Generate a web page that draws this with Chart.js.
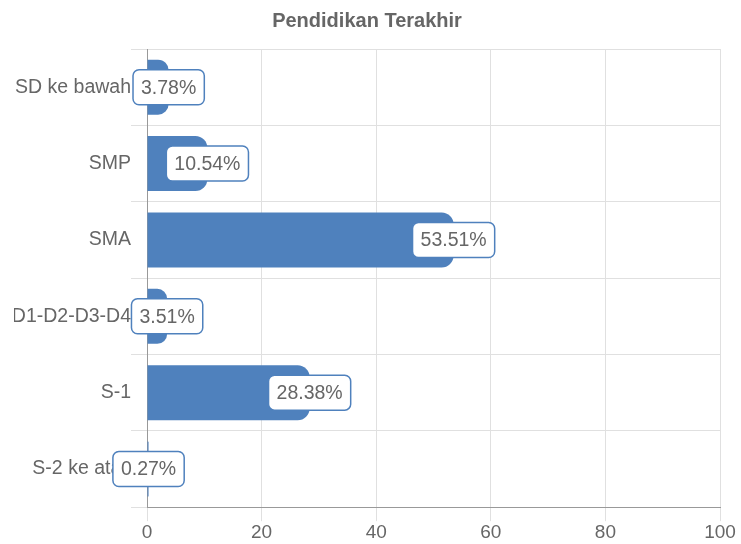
<!DOCTYPE html>
<html lang="en">
  <head>
    <title>Pendidikan Terakhir</title>
    <meta charset="utf-8" />
    <style>
      html, body { margin: 0; padding: 0; background: #fff; }
      #wrap { width: 741px; height: 544px; }
    </style>
  </head>
  <body>
    <div id="wrap">
      <canvas id="lienzo"></canvas>
    </div>

    <script src="https://cdn.jsdelivr.net/npm/chart.js"></script>
    <script>
      const kategori = ["SD ke bawah", "SMP", "SMA", "D1-D2-D3-D4", "S-1", "S-2 ke atas"];
      const persen = [3.78, 10.54, 53.51, 3.51, 28.38, 0.27];
      const xTicks = [0, 20, 40, 60, 80, 100];

      const warnaBar = "#4f81bd";
      const abu = "#666666";
      const huruf = "'Liberation Sans', Arial, sans-serif";

      // label kotak putih di ujung bar
      const labelUjung = {
        id: "labelUjung",
        afterDatasetsDraw(chart) {
          const ctx = chart.ctx;
          const meta = chart.getDatasetMeta(0);
          ctx.save();
          ctx.font = "19.5px " + huruf;
          ctx.textAlign = "center";
          ctx.textBaseline = "middle";
          meta.data.forEach((bar, i) => {
            const teks = persen[i].toFixed(2) + "%";
            const w = ctx.measureText(teks).width + 16;
            const h = 35;
            const x = bar.x - w / 2;
            const y = bar.y - h / 2;
            ctx.beginPath();
            ctx.roundRect(x, y, w, h, 6);
            ctx.fillStyle = "#ffffff";
            ctx.fill();
            ctx.lineWidth = 1.5;
            ctx.strokeStyle = warnaBar;
            ctx.stroke();
            ctx.fillStyle = abu;
            ctx.fillText(teks, bar.x, bar.y + 1);
          });
          ctx.restore();
        },
      };

      document.addEventListener("DOMContentLoaded", () => {
        const contexto = document.querySelector("#lienzo");
        new Chart(contexto, {
          type: "bar",
          data: {
            labels: kategori,
            datasets: [
              {
                label: "Pendidikan Terakhir",
                data: persen,
                backgroundColor: warnaBar,
                borderRadius: 12,
                borderSkipped: "start",
              },
            ],
          },
          options: {
            indexAxis: "y",
            responsive: true,
            maintainAspectRatio: false,
            animation: false,
            layout: { padding: { left: 14, right: 21, top: 1, bottom: 0 } },
            plugins: {
              legend: { display: false },
              tooltip: { enabled: false },
              title: {
                display: true,
                text: "Pendidikan Terakhir",
                color: abu,
                font: { family: huruf, size: 20, weight: "bold" },
                padding: { top: 8, bottom: 16 },
              },
            },
            scales: {
              x: {
                min: 0,
                max: 100,
                afterBuildTicks: (axis) => {
                  axis.ticks = xTicks.map((v) => ({ value: v }));
                },
                grid: { color: "#e0e0e0", tickLength: 14 },
                border: { color: "#999999" },
                ticks: {
                  color: abu,
                  font: { family: huruf, size: 19 },
                  padding: 0,
                },
              },
              y: {
                afterFit: (axis) => {
                  axis.width = 133;
                },
                grid: { color: "#e0e0e0", tickLength: 16, offset: true },
                border: { color: "#999999" },
                ticks: {
                  color: abu,
                  font: { family: huruf, size: 19.5 },
                  padding: 0,
                },
              },
            },
          },
          plugins: [labelUjung],
        });
      });
    </script>
  </body>
</html>
